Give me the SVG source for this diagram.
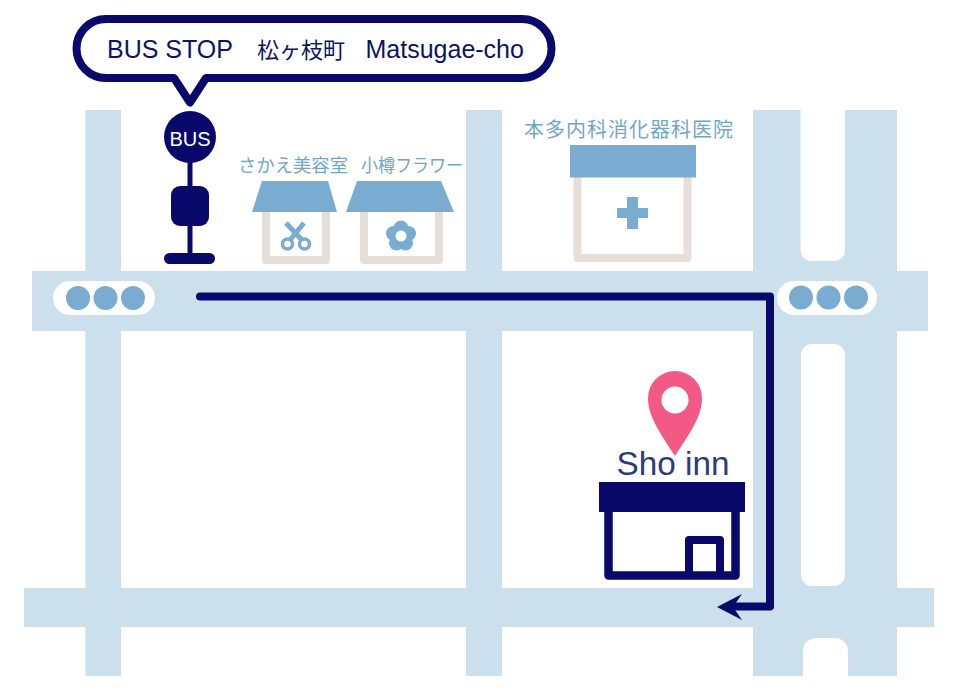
<svg xmlns="http://www.w3.org/2000/svg" width="962" height="691" viewBox="0 0 962 691">
<style>
.road{fill:#cbdfed}
.slot{fill:#fff}
.navy{fill:#09096b}
.roof{fill:#7aabd0}
.wall{fill:none;stroke:#e6dfd9;stroke-width:8;stroke-linejoin:round}
.lamp{fill:#7aabd0}
.pill{fill:#fff}
.lbl{font-family:"Noto Sans CJK JP","Noto Sans CJK SC",sans-serif;fill:#74a5c4;font-size:18px;font-weight:400}
.en{font-family:"Liberation Sans",Arial,"Noto Sans CJK JP",sans-serif}
</style>
<rect width="962" height="691" fill="#fff"/>
<g id="roads">
<rect class="road" x="85.5" y="110" width="35.5" height="566"/>
<rect class="road" x="466" y="110" width="36" height="566"/>
<rect class="road" x="753" y="110" width="144" height="566"/>
<rect class="road" x="32" y="271" width="896" height="60"/>
<rect class="road" x="24" y="588" width="910" height="39"/>
<path class="slot" d="M800.500 110H845V250a11 11 0 0 1-11 11H811.500a11 11 0 0 1-11-11Z"/>
<path class="slot" d="M812 344H834a11 11 0 0 1 11 11V575a11 11 0 0 1-11 11H812a11 11 0 0 1-11-11V355a11 11 0 0 1 11-11Z"/>
<path class="slot" d="M803 676V651a13 13 0 0 1 13-13H835a13 13 0 0 1 13 13V676Z"/>
</g>
<g id="light-left">
<rect class="pill" x="53" y="281" width="102" height="34" rx="17"/>
<circle class="lamp" cx="78" cy="298" r="12"/><circle class="lamp" cx="105.500" cy="298" r="12"/><circle class="lamp" cx="133" cy="298" r="12"/>
</g>
<g id="light-right">
<rect class="pill" x="777" y="281" width="100" height="34" rx="17"/>
<circle class="lamp" cx="801" cy="297.500" r="12"/><circle class="lamp" cx="828.500" cy="297.500" r="12"/><circle class="lamp" cx="856" cy="297.500" r="12"/>
</g>
<g id="bus-stop-callout">
<path d="M106 19H522a29.500 29.500 0 0 1 0 59H206L190 102.500 174 78H106a29.500 29.500 0 0 1 0-59Z" fill="#fff" stroke="#09096b" stroke-width="8" stroke-linejoin="round"/>
<text class="en" y="58" font-size="25" fill="#0d1560"><tspan x="107">BUS STOP</tspan><tspan x="257" font-size="22" font-family="'Noto Sans CJK JP',sans-serif">松ヶ枝町</tspan><tspan x="365.500" font-size="25">Matsugae-cho</tspan></text>
</g>
<g id="bus-stop">
<rect class="navy" x="187.500" y="150" width="5" height="108"/>
<circle class="navy" cx="190" cy="137" r="26"/>
<rect class="navy" x="171" y="186" width="38" height="40" rx="9"/>
<rect class="navy" x="164" y="253" width="51" height="11" rx="5.500"/>
<text class="en" x="190" y="145.500" font-size="20" fill="#fff" text-anchor="middle">BUS</text>
</g>
<g id="salon">
<text class="lbl" x="238" y="172" textLength="110" lengthAdjust="spacingAndGlyphs">さかえ美容室</text>
<path class="wall" d="M266 210V260H326V210"/>
<path class="roof" d="M262 181H328L337 212H252Z"/>
<g fill="none" stroke="#7aabd0">
<circle cx="287.500" cy="244" r="5" stroke-width="3.500"/><circle cx="304.500" cy="244" r="5" stroke-width="3.500"/>
<path d="M290 240L304 223M302 240L286 223" stroke-width="5"/>
</g>
</g>
<g id="flower-shop">
<text class="lbl" x="361" y="172" textLength="102" lengthAdjust="spacingAndGlyphs">小樽フラワー</text>
<path class="wall" d="M364 210V260H439V210"/>
<path class="roof" d="M357 181H441L454 212H346Z"/>
<g class="roof"><circle cx="401" cy="228" r="7.500"/><circle cx="393.500" cy="233.500" r="7.500"/><circle cx="408.500" cy="233.500" r="7.500"/><circle cx="396.500" cy="243" r="7.500"/><circle cx="405.500" cy="243" r="7.500"/><circle cx="401" cy="236" r="8"/></g>
<circle cx="401" cy="236" r="5.500" fill="#fff"/>
</g>
<g id="clinic">
<text class="lbl" x="524" y="137" textLength="209" lengthAdjust="spacing" style="font-size:20px">本多内科消化器科医院</text>
<path class="wall" d="M577.500 170V258H687.500V170"/>
<rect class="roof" x="570" y="145" width="126" height="32.500"/>
<path class="roof" d="M627 197H638V208H648V218H638V229H627V218H617V208H627Z"/>
</g>
<g id="connectors">
<path d="M200 296.500H770V606.500H735" fill="none" stroke="#09096b" stroke-width="8" stroke-linecap="round" stroke-linejoin="round"/>
<path class="navy" d="M717 607L742 594L733 607L742 620Z"/>
</g>
<g id="sho-inn">
<text class="en" x="616.500" y="475" font-size="33.300" fill="#2c3c78">Sho inn</text>
<path d="M675 371a27 27 0 0 1 27 28C702 418 685 440 675 456C665 440 648 418 648 399a27 27 0 0 1 27-28Z" fill="#f25a85"/>
<circle cx="675" cy="400" r="13.500" fill="#fff"/>
<path d="M608.500 510V575.500H735.500V510" fill="none" stroke="#09096b" stroke-width="8.500" stroke-linejoin="round"/>
<rect class="navy" x="599" y="482" width="146" height="30"/>
<path d="M689 574V540H720V574" fill="none" stroke="#09096b" stroke-width="8" stroke-linejoin="round"/>
</g>
</svg>
